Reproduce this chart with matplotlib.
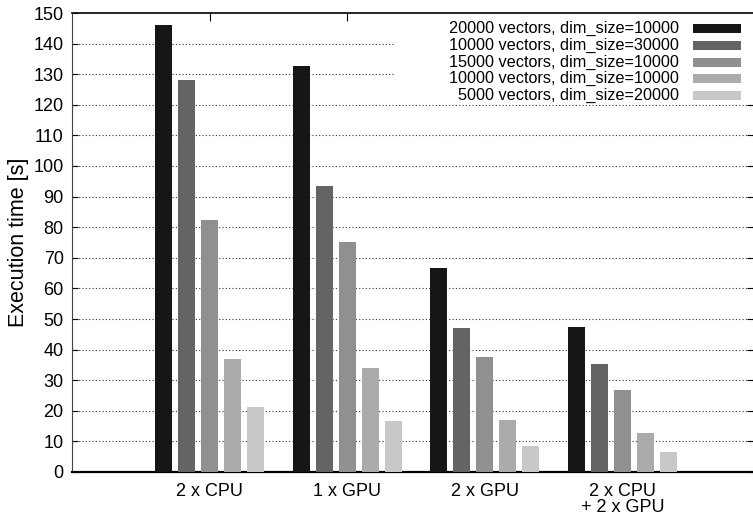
import numpy as np
import matplotlib
matplotlib.use("Agg")
import matplotlib.pyplot as plt
from matplotlib.patches import Rectangle

plt.rcParams['font.family'] = ['Liberation Sans', 'DejaVu Sans']

# execution times [s] per configuration
configs = ['2 x CPU', '1 x GPU', '2 x GPU', '2 x CPU\n+ 2 x GPU']
series = ['20000 vectors, dim_size=10000',
          '10000 vectors, dim_size=30000',
          '15000 vectors, dim_size=10000',
          '10000 vectors, dim_size=10000',
          '5000 vectors, dim_size=20000']
t_20k_10k = [146.1, 132.7, 66.7, 47.4]
t_10k_30k = [128.1, 93.5, 47.1, 35.3]
t_15k_10k = [82.4, 75.2, 37.6, 26.8]
t_10k_10k = [36.9, 34.0, 17.0, 12.7]
t_5k_20k = [21.1, 16.7, 8.5, 6.5]
colors = ['#161616', '#646464', '#909090', '#ababab', '#c8c8c8']

data = [t_20k_10k, t_10k_30k, t_15k_10k, t_10k_10k, t_5k_20k]

fig = plt.figure(figsize=(7.53, 5.17), dpi=100)
ax = fig.add_axes([72/753, 45/517, 681/753, 459/517])

x = np.arange(len(configs))
pitch = 0.167
width = 0.124
for j, (vals, c) in enumerate(zip(data, colors)):
    ax.bar(x + (j - 2) * pitch, vals, width, color=c, zorder=3)

ax.set_xlim(-1, 3.95)
ax.set_ylim(0, 150)
ax.set_yticks(np.arange(0, 151, 10))
ax.set_xticks(x)
ax.set_xticklabels(configs, linespacing=0.9)

for y in range(10, 150, 10):
    ax.axhline(y, color='#333333', lw=0.8, ls=(0, (1, 2)), zorder=1)

ax.tick_params(axis='both', labelsize=13, direction='in', colors='black')
ax.tick_params(axis='y', length=4, right=True, pad=6)
ax.tick_params(axis='x', length=6, top=True, pad=8)

ax.spines['bottom'].set_linewidth(1.6)
ax.spines['top'].set_linewidth(1.2)
ax.spines['left'].set_linewidth(0.8)
ax.spines['left'].set_color('#444444')
ax.spines['right'].set_visible(False)

ax.set_ylabel('Execution time [s]', fontsize=15.5, labelpad=3)

# key in the upper right, on a white block over the grid
ax.add_patch(Rectangle((0.473, 0.81), 0.527, 0.19, transform=ax.transAxes,
                       facecolor='white', edgecolor='none', zorder=2))
rows_y = [0.967, 0.930, 0.893, 0.858, 0.821]
for name, c, yy in zip(series, colors, rows_y):
    ax.text(0.891, yy, name, transform=ax.transAxes, ha='right', va='center',
            fontsize=11.7, zorder=4)
    ax.add_patch(Rectangle((0.912, yy - 0.0098), 0.0705, 0.0196,
                           transform=ax.transAxes, facecolor=c,
                           edgecolor='none', zorder=4))

fig.savefig('out.png', dpi=100)
